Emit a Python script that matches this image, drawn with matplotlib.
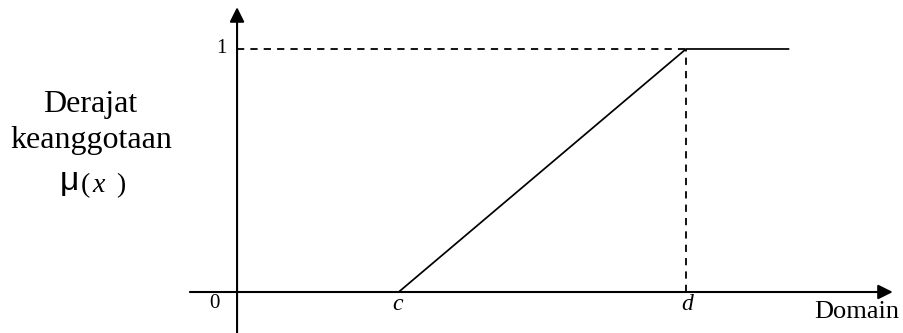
import matplotlib.pyplot as plt

# membership function (linear rising) : 0 before c, ramps to 1 at d, stays at 1
domain_pts = [0.36, 1.0, 1.23]
mu_pts = [0.0, 1.0, 1.0]
c_val, d_val = domain_pts[0], domain_pts[1]
tick_text = {"zero": "0", "one": "1", "c": "c", "d": "d"}

W, H = 904, 333
fig = plt.figure(figsize=(W / 100, H / 100), dpi=100)
fig.patch.set_facecolor("white")
ax = fig.add_axes([0, 0, 1, 1])
ax.set_xlim(-0.528, 1.4855)
ax.set_ylim(-0.1687, 1.2016)
ax.axis("off")

serif = "Liberation Serif"

# axes with arrow heads
ax.annotate("", xy=(1.4605, 0), xytext=(-0.105, 0),
            arrowprops=dict(arrowstyle="-|>", color="black", lw=1.5,
                            mutation_scale=22, shrinkA=0, shrinkB=0))
ax.annotate("", xy=(0, 1.172), xytext=(0, -0.17),
            arrowprops=dict(arrowstyle="-|>", color="black", lw=1.5,
                            mutation_scale=22, shrinkA=0, shrinkB=0))

# guide lines at mu = 1 and x = d
ax.plot([0, d_val], [1, 1], color="black", lw=1.3, ls=(0, (4.0, 3.4)))
ax.plot([d_val, d_val], [0, 1], color="black", lw=1.3, ls=(0, (4.0, 3.4)))

# membership curve
ax.plot(domain_pts, mu_pts, color="black", lw=1.25, solid_capstyle="butt")

# tick labels
ax.annotate(tick_text["one"], xy=(0, 1), xytext=(-11, 0), textcoords="offset points",
            ha="center", va="center", fontsize=15, family=serif)
ax.annotate(tick_text["zero"], xy=(0, 0), xytext=(-16, -8), textcoords="offset points",
            ha="center", va="center", fontsize=15, family=serif)
ax.annotate(tick_text["c"], xy=(c_val, 0), xytext=(-1, -9), textcoords="offset points",
            ha="center", va="center", fontsize=17, family=serif, style="italic")
ax.annotate(tick_text["d"], xy=(d_val, 0), xytext=(1, -9), textcoords="offset points",
            ha="center", va="center", fontsize=17, family=serif, style="italic")

# axis captions
ax.text(857 / W, 1 - 318 / H, "Domain", transform=ax.transAxes, ha="center",
        va="baseline", fontsize=19, family=serif)
ax.text(90 / W, 1 - 112 / H, "Derajat", transform=ax.transAxes, ha="center",
        va="baseline", fontsize=23, family=serif)
ax.text(91 / W, 1 - 148 / H, "keanggotaan", transform=ax.transAxes, ha="center",
        va="baseline", fontsize=23, family=serif)
ax.text(79 / W, 1 - 190 / H, "μ", transform=ax.transAxes, ha="right",
        va="baseline", fontsize=24, family="Liberation Sans")
ax.text(81 / W, 1 - 192 / H, "(", transform=ax.transAxes, ha="left",
        va="baseline", fontsize=20, family=serif)
ax.text(92 / W, 1 - 192 / H, "x", transform=ax.transAxes, ha="left",
        va="baseline", fontsize=20, family=serif, style="italic")
ax.text(116 / W, 1 - 192 / H, ")", transform=ax.transAxes, ha="left",
        va="baseline", fontsize=20, family=serif)

fig.savefig("out.png", dpi=100, facecolor="white")
